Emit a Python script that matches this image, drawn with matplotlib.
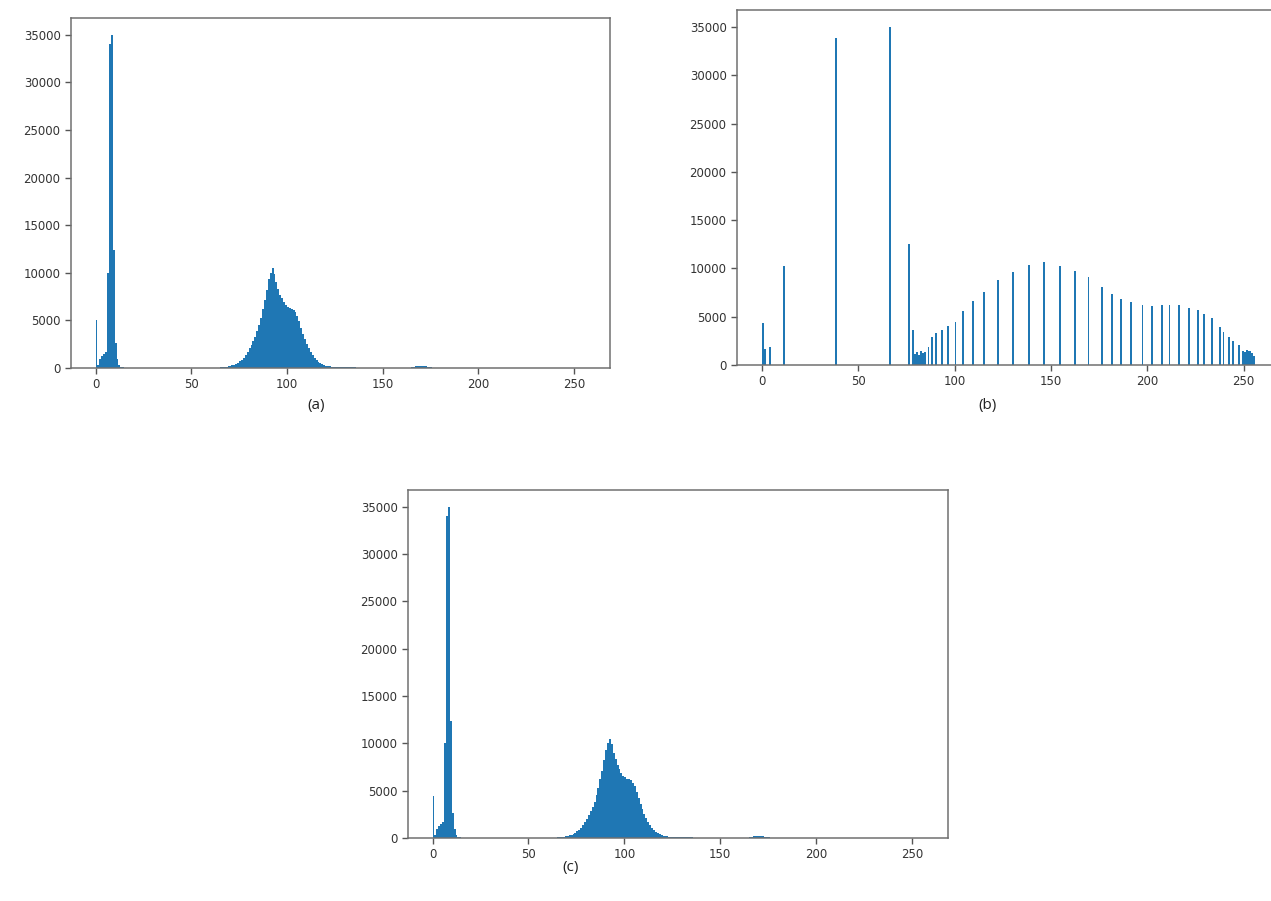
import matplotlib
matplotlib.use("Agg")
import matplotlib.pyplot as plt

# ---------------- data: (a) original image histogram ----------------
a_levels = [0, 1, 2, 3, 4, 5, 6, 7, 8, 9, 10, 11, 12, 13, 14, 15,
            60, 61, 62, 63, 64, 65, 66, 67, 68, 69, 70, 71, 72, 73, 74, 75,
            76, 77, 78, 79, 80, 81, 82, 83, 84, 85, 86, 87, 88, 89, 90, 91,
            92, 93, 94, 95, 96, 97, 98, 99, 100, 101, 102, 103, 104, 105, 106, 107,
            108, 109, 110, 111, 112, 113, 114, 115, 116, 117, 118, 119, 120, 121, 122, 123,
            124, 125, 126, 127, 128, 129, 130, 131, 132, 133, 134, 135, 136, 137, 138, 139,
            140, 141, 142, 143, 144, 145,
            165, 166, 167, 168, 169, 170, 171, 172, 173, 174, 175]
a_counts = [5000, 300, 900, 1300, 1500, 1700, 10000, 34000, 35000, 12400, 2600, 900, 350, 150, 80, 40,
            20, 25, 30, 35, 45, 55, 70, 90, 120, 160, 210, 270, 350, 450, 570, 710,
            870, 1080, 1350, 1700, 2050, 2450, 2850, 3300, 3850, 4500, 5300, 6200, 7100, 8200, 9300, 10000,
            10500, 9900, 9000, 8300, 7700, 7300, 6900, 6600, 6400, 6250, 6200, 6100, 5850, 5450, 4900, 4250,
            3600, 3050, 2550, 2100, 1700, 1350, 1050, 800, 620, 480, 370, 290, 230, 190, 160, 140,
            120, 110, 100, 95, 90, 85, 80, 75, 70, 65, 60, 55, 50, 45, 40, 35,
            30, 28, 25, 22, 20, 18,
            120, 150, 180, 200, 210, 200, 190, 170, 150, 120, 100]

# ---------------- data: (b) equalized image histogram ----------------
b_levels = [0, 1, 4, 11, 38, 66, 76, 78, 79, 80, 81, 82, 83, 84, 86, 88, 90, 93, 96,
            100, 104, 109, 115, 122, 130, 138, 146, 154, 162, 169, 176, 181, 186, 191,
            197, 202, 207, 211, 216, 221, 226, 229, 233, 237, 239, 242, 244, 247,
            249, 250, 251, 252, 253, 254, 255]
b_counts = [4300, 1700, 1850, 10300, 33900, 35000, 12500, 3600, 1100, 1300, 1000, 1400, 1200, 1300,
            1900, 2900, 3300, 3650, 4050,
            4500, 5550, 6580, 7520, 8770, 9600, 10400, 10640, 10290, 9700, 9110, 8040, 7380, 6860, 6480,
            6240, 6060, 6240, 6240, 6170, 5890, 5700, 5250, 4850, 3980, 3460, 2940, 2500, 2080,
            1500, 1300, 1550, 1400, 1500, 1250, 900]

# ---------------- data: (c) restored image histogram ----------------
c_levels = [0, 1, 2, 3, 4, 5, 6, 7, 8, 9, 10, 11, 12, 13, 14, 15,
            60, 61, 62, 63, 64, 65, 66, 67, 68, 69, 70, 71, 72, 73, 74, 75,
            76, 77, 78, 79, 80, 81, 82, 83, 84, 85, 86, 87, 88, 89, 90, 91,
            92, 93, 94, 95, 96, 97, 98, 99, 100, 101, 102, 103, 104, 105, 106, 107,
            108, 109, 110, 111, 112, 113, 114, 115, 116, 117, 118, 119, 120, 121, 122, 123,
            124, 125, 126, 127, 128, 129, 130, 131, 132, 133, 134, 135, 136, 137, 138, 139,
            140, 141, 142, 143, 144, 145,
            165, 166, 167, 168, 169, 170, 171, 172, 173, 174, 175]
c_counts = [4400, 300, 900, 1300, 1500, 1700, 10000, 34000, 35000, 12400, 2600, 900, 350, 150, 80, 40,
            20, 25, 30, 35, 45, 55, 70, 90, 120, 160, 210, 270, 350, 450, 570, 710,
            870, 1080, 1350, 1700, 2050, 2450, 2850, 3300, 3850, 4500, 5300, 6200, 7100, 8200, 9300, 10000,
            10500, 9900, 9000, 8300, 7700, 7300, 6900, 6600, 6400, 6250, 6200, 6100, 5850, 5450, 4900, 4250,
            3600, 3050, 2550, 2100, 1700, 1350, 1050, 800, 620, 480, 370, 290, 230, 190, 160, 140,
            120, 110, 100, 95, 90, 85, 80, 75, 70, 65, 60, 55, 50, 45, 40, 35,
            30, 28, 25, 22, 20, 18,
            120, 150, 180, 200, 210, 200, 190, 170, 150, 120, 100]

captions = ["(a)", "(b)", "(c)"]

W, H = 1271, 901
fig = plt.figure(figsize=(W / 100, H / 100), dpi=100)


def px_axes(left, top, right, bottom):
    return fig.add_axes([left / W, 1 - bottom / H, (right - left) / W, (bottom - top) / H])


def style(ax):
    for s in ax.spines.values():
        s.set_color("#707070")
        s.set_linewidth(1.1)
    ax.tick_params(labelsize=8.5, labelcolor="#333333", color="#555555", length=4, width=1)
    ax.set_yticks(range(0, 35001, 5000))
    ax.set_xticks(range(0, 251, 50))


ax_a = px_axes(71, 18, 610, 368)
ax_a.hist(a_levels, bins=256, range=(0, 256), weights=a_counts, color="#1f77b4")
style(ax_a)

ax_b = px_axes(737, 10, 1280, 365)
ax_b.hist(b_levels, bins=256, range=(0, 256), weights=b_counts, color="#1f77b4")
style(ax_b)

ax_c = px_axes(408, 490, 948, 838)
ax_c.hist(c_levels, bins=256, range=(0, 256), weights=c_counts, color="#1f77b4")
style(ax_c)

for (x, y), t in zip([(316, 405), (987, 405), (571, 868)], captions):
    fig.text(x / W, 1 - y / H, t, ha="center", va="center", fontsize=11,
             family=["Open Sans", "DejaVu Sans"], color="#222222")

fig.savefig("out.png", dpi=100)
